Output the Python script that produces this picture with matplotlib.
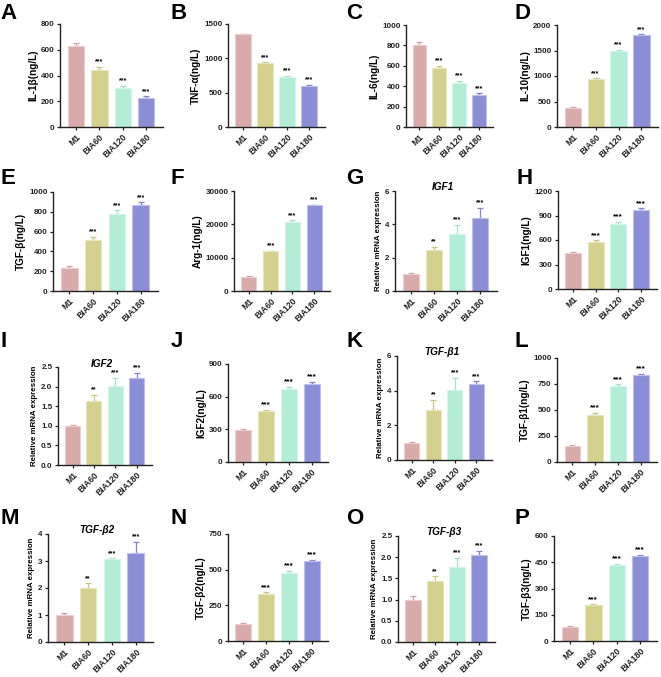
import matplotlib
matplotlib.use("Agg")
import matplotlib.pyplot as plt
import matplotlib.colors as mcolors
import numpy as np

plt.rcParams['font.family'] = ['Liberation Sans', 'DejaVu Sans']
plt.rcParams['font.weight'] = 'bold'
plt.rcParams['mathtext.default'] = 'regular'

groups = ['M1', 'BIA60', 'BIA120', 'BIA180']
bar_colors = ['#D8AAAA', '#D4D18E', '#B3EDD7', '#8B8ED6']

# ---- data (mean, error) ----
il1b_mean = [630, 443, 303, 222];       il1b_err = [20, 25, 18, 15]
tnfa_mean = [1350, 925, 735, 600];      tnfa_err = [10, 15, 10, 15]
il6_mean = [800, 580, 435, 315];        il6_err = [30, 20, 15, 15]
il10_mean = [375, 940, 1500, 1810];     il10_err = [10, 15, 10, 10]
tgfb_mean = [235, 520, 780, 870];       tgfb_err = [20, 30, 35, 25]
arg1_mean = [4300, 11900, 20600, 25700]; arg1_err = [200, 200, 600, 200]
igf1_mrna_mean = [1.0, 2.45, 3.4, 4.4]; igf1_mrna_err = [0.1, 0.2, 0.58, 0.6]
igf1_mean = [435, 575, 800, 965];       igf1_err = [20, 20, 25, 25]
igf2_mrna_mean = [1.0, 1.62, 2.01, 2.21]; igf2_mrna_err = [0.01, 0.17, 0.21, 0.14]
igf2_mean = [290, 470, 670, 720];       igf2_err = [10, 12, 20, 15]
tgfb1_mrna_mean = [1.0, 2.9, 4.05, 4.4]; tgfb1_mrna_err = [0.06, 0.58, 0.7, 0.15]
tgfb1_mean = [158, 455, 735, 840];      tgfb1_err = [5, 15, 12, 10]
tgfb2_mrna_mean = [1.0, 2.0, 3.07, 3.3]; tgfb2_mrna_err = [0.08, 0.18, 0.03, 0.4]
tgfb2_mean = [120, 330, 478, 560];      tgfb2_err = [8, 12, 12, 10]
tgfb3_mrna_mean = [1.0, 1.45, 1.78, 2.05]; tgfb3_mrna_err = [0.08, 0.1, 0.2, 0.1]
tgfb3_mean = [82, 205, 432, 485];       tgfb3_err = [5, 5, 10, 8]

sig_elisa = ['', '***', '***', '***']
sig_mrna = ['', '**', '***', '***']

W, H = 661, 677
fig = plt.figure(figsize=(W / 100, H / 100), dpi=100)

def px_axes(l, t, r, b):
    return fig.add_axes([l / W, 1 - b / H, (r - l) / W, (b - t) / H])

# letter, rect(px), mean, err, ylabel, title, ymax, ystep, sig, star size, letter pos
panels = [
    ('A', (60, 24, 163, 127), il1b_mean, il1b_err, 'IL-1β(ng/L)', None, 800, 200, sig_elisa, 5, (0, 3)),
    ('B', (228, 24, 325, 127), tnfa_mean, tnfa_err, 'TNF-α(ng/L)', None, 1500, 500, sig_elisa, 5, (171, 3)),
    ('C', (406, 25, 493, 127), il6_mean, il6_err, 'IL-6(ng/L)', None, 1000, 200, sig_elisa, 5, (346, 3)),
    ('D', (557, 25, 658, 127), il10_mean, il10_err, 'IL-10(ng/L)', None, 2000, 500, sig_elisa, 5, (515, 3)),
    ('E', (53, 192, 158, 291), tgfb_mean, tgfb_err, 'TGF-β(ng/L)', None, 1000, 200, sig_elisa, 5, (0, 168)),
    ('F', (234, 191, 330, 291), arg1_mean, arg1_err, 'Arg-1(ng/L)', None, 30000, 10000, sig_elisa, 5, (171, 168)),
    ('G', (395, 191, 497, 291), igf1_mrna_mean, igf1_mrna_err, 'Relative mRNA expression', 'IGF1', 6, 2, sig_mrna, 5, (346, 168)),
    ('H', (558, 191, 657, 289), igf1_mean, igf1_err, 'IGF1(ng/L)', None, 1200, 300, sig_elisa, 6, (516, 168)),
    ('I', (58, 367, 152, 465), igf2_mrna_mean, igf2_mrna_err, 'Relative mRNA expression', 'IGF2', 2.5, 0.5, sig_mrna, 5, (0, 331)),
    ('J', (228, 364, 328, 462), igf2_mean, igf2_err, 'IGF2(ng/L)', None, 900, 300, sig_elisa, 6, (171, 331)),
    ('K', (397, 356, 492, 460), tgfb1_mrna_mean, tgfb1_mrna_err, 'Relative mRNA expression', 'TGF-β1', 6, 2, sig_mrna, 5, (346, 331)),
    ('L', (557, 358, 657, 462), tgfb1_mean, tgfb1_err, 'TGF-β1(ng/L)', None, 1000, 250, sig_elisa, 6, (515, 331)),
    ('M', (48, 534, 153, 642), tgfb2_mrna_mean, tgfb2_mrna_err, 'Relative mRNA expression', 'TGF-β2', 4, 1, sig_mrna, 5, (0, 508)),
    ('N', (228, 534, 328, 641), tgfb2_mean, tgfb2_err, 'TGF-β2(ng/L)', None, 750, 250, sig_elisa, 6, (171, 508)),
    ('O', (398, 536, 495, 642), tgfb3_mrna_mean, tgfb3_mrna_err, 'Relative mRNA expression', 'TGF-β3', 2.5, 0.5, sig_mrna, 5, (346, 508)),
    ('P', (554, 536, 657, 641), tgfb3_mean, tgfb3_err, 'TGF-β3(ng/L)', None, 600, 150, sig_elisa, 6, (515, 508)),
]

def lighten(c, f):
    rgb = np.array(mcolors.to_rgb(c))
    return tuple(rgb + (1 - rgb) * f)

def darken(c, f):
    rgb = np.array(mcolors.to_rgb(c))
    return tuple(rgb * (1 - f))

def fmt_tick(v, step):
    if step < 1:
        return f'{v:.1f}'
    return f'{int(round(v))}'

for (letter, rect, mean, err, ylabel, title, ymax, ystep, sig, starsize, lpos) in panels:
    ax = px_axes(*rect)
    x = np.arange(len(groups))
    ax.bar(x, mean, width=0.7, color=bar_colors,
           edgecolor=[lighten(c, 0.45) for c in bar_colors], linewidth=0.8, zorder=2)
    for xi, m, e, c in zip(x, mean, err, bar_colors):
        ax.errorbar(xi, m, yerr=[[0], [e]], fmt='none', ecolor=darken(c, 0.05),
                    elinewidth=0.9, capsize=2.5, capthick=0.9, zorder=1)
    for xi, m, e, s in zip(x, mean, err, sig):
        if s:
            ax.annotate(s, xy=(xi, m + e), xytext=(0, 1.0), textcoords='offset points',
                        ha='center', va='bottom', fontsize=starsize, fontweight='bold')
    ax.set_xlim(-0.68, 3.72)
    ax.set_ylim(0, ymax)
    ticks = np.arange(0, ymax + ystep * 0.01, ystep)
    ax.set_yticks(ticks)
    ax.set_yticklabels([fmt_tick(t, ystep) for t in ticks], fontsize=5.8, fontweight='bold')
    ax.set_xticks(x)
    ax.set_xticklabels(groups, rotation=45, ha='right', rotation_mode='anchor',
                       fontsize=6.2, fontweight='bold')
    for sp in ['top', 'right']:
        ax.spines[sp].set_visible(False)
    for sp in ['left', 'bottom']:
        ax.spines[sp].set_linewidth(1.0)
        ax.spines[sp].set_color('#222222')
    ax.tick_params(axis='both', length=2.5, width=0.9, pad=1.5, colors='#222222')
    ax.tick_params(axis='x', pad=1.5)
    if title is None:
        ax.set_ylabel(ylabel, fontsize=7.2, fontweight='bold', labelpad=2)
    else:
        ax.set_ylabel(ylabel, fontsize=5.7, fontweight='bold', labelpad=2)
        ax.text(0.47, 1.035, title, transform=ax.transAxes, ha='center', va='center',
                fontsize=7.2, fontweight='bold', fontstyle='italic')
    fig.text(lpos[0] / W, 1 - lpos[1] / H, letter, ha='left', va='top',
             fontsize=16, fontweight='bold')

fig.savefig('out.png', dpi=100)
